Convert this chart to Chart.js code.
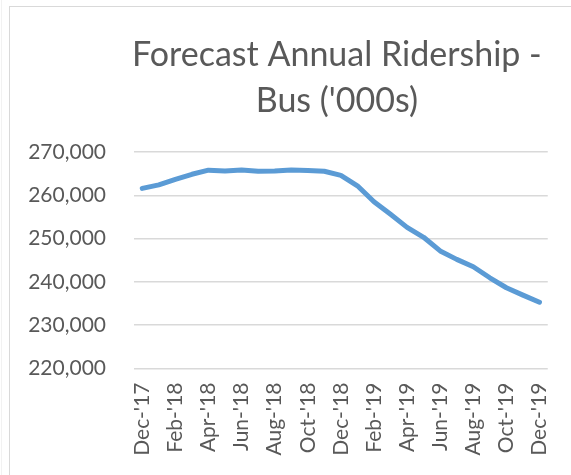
<!DOCTYPE html>
<html>
<head>
<meta charset="utf-8">
<script src="https://cdn.jsdelivr.net/npm/chart.js@4/dist/chart.umd.min.js"></script>
<style>
  html, body { margin: 0; padding: 0; background: #ffffff; overflow: hidden; }
  #wrap { position: relative; width: 571px; height: 475px; }
  #frame { position: absolute; left: 9px; top: 6px; width: 600px; height: 500px; border: 1px solid #D9D9D9; box-sizing: border-box; }
  #faint { position: absolute; left: 1px; top: 0; width: 1px; height: 475px; background: #F2F2F2; }
  canvas { position: absolute; left: 0; top: 0; }
</style>
</head>
<body>
<div id="wrap">
  <div id="faint"></div>
  <div id="frame"></div>
  <canvas id="c" width="571" height="475"></canvas>
</div>
<script>
const titleLines = ["Forecast Annual Ridership -", "Bus ('000s)"];
const categories = ["Dec-'17","Jan-'18","Feb-'18","Mar-'18","Apr-'18","May-'18","Jun-'18","Jul-'18","Aug-'18","Sep-'18","Oct-'18","Nov-'18","Dec-'18","Jan-'19","Feb-'19","Mar-'19","Apr-'19","May-'19","Jun-'19","Jul-'19","Aug-'19","Sep-'19","Oct-'19","Nov-'19","Dec-'19"];
const ridership = [261600, 262400, 263700, 264850, 265800, 265600, 265850, 265550, 265600, 265850, 265700, 265550, 264600, 262200, 258500, 255600, 252600, 250300, 247150, 245200, 243500, 240950, 238650, 236950, 235300];
const yTicks = [220000, 230000, 240000, 250000, 260000, 270000];

const FONT = "Lato, 'Open Sans', sans-serif";
const TEXT = '#595959';

const titlePlugin = {
  id: 'excelTitle',
  afterDraw(chart) {
    const ctx = chart.ctx;
    const a = chart.chartArea;
    const cx = (a.left + a.right) / 2 - 4;
    ctx.save();
    ctx.fillStyle = TEXT;
    ctx.font = "34px " + FONT;
    ctx.textAlign = 'center';
    ctx.textBaseline = 'alphabetic';
    ctx.fillText(titleLines[0], cx, 66);
    ctx.fillText(titleLines[1], cx, 112);
    ctx.restore();
  }
};

new Chart(document.getElementById('c'), {
  type: 'line',
  data: {
    labels: categories,
    datasets: [{
      data: ridership,
      borderColor: '#5B9BD5',
      borderWidth: 5,
      borderCapStyle: 'round',
      borderJoinStyle: 'round',
      pointRadius: 0,
      tension: 0,
      fill: false
    }]
  },
  options: {
    responsive: false,
    animation: false,
    devicePixelRatio: 1,
    layout: { padding: { top: 152, right: 16, left: 0, bottom: 0 } },
    plugins: { legend: { display: false }, tooltip: { enabled: false }, title: { display: false } },
    scales: {
      x: {
        offset: true,
        grid: { display: false },
        border: { display: false },
        afterFit: function(axis) { axis.height = 106.5; },
        ticks: {
          autoSkip: false,
          maxRotation: 90,
          minRotation: 90,
          padding: 6,
          color: TEXT,
          font: { family: FONT, size: 21 },
          callback: function(v, i) { return i % 2 === 0 ? categories[i] : ''; }
        }
      },
      y: {
        min: yTicks[0],
        max: yTicks[yTicks.length - 1],
        afterBuildTicks: function(axis) { axis.ticks = yTicks.map(v => ({ value: v })); },
        afterFit: function(axis) { axis.width = 134; },
        grid: { color: '#D9D9D9', lineWidth: 1.5, drawTicks: false },
        border: { display: false },
        ticks: {
          padding: 28,
          color: TEXT,
          font: { family: FONT, size: 21 },
          callback: function(v) { return v.toLocaleString('en-US'); }
        }
      }
    }
  },
  plugins: [titlePlugin]
});
</script>
</body>
</html>
